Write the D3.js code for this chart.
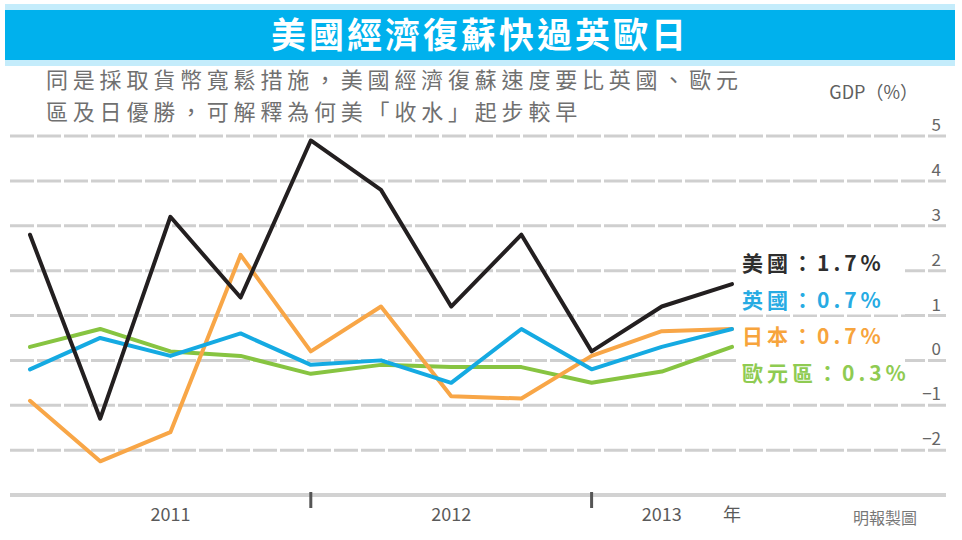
<!DOCTYPE html>
<html>
<head>
<meta charset="utf-8">
<script src="https://cdn.jsdelivr.net/npm/d3@7"></script>
<style>
  body { margin: 0; background: #fff; }
  svg { display: block; font-family: "Noto Sans CJK TC", "Noto Sans", sans-serif; }
</style>
</head>
<body>
<div id="chart"></div>
<script>
// quarterly GDP growth (%), 2010 Q4 .. 2013 Q2
const quarters = ["2010Q4", "2011Q1", "2011Q2", "2011Q3", "2011Q4", "2012Q1", "2012Q2", "2012Q3", "2012Q4", "2013Q1", "2013Q2"];
const usValues = [2.8, -1.3, 3.2, 1.4, 4.9, 3.8, 1.2, 2.8, 0.2, 1.2, 1.7];
const ukValues = [-0.2, 0.5, 0.1, 0.6, -0.1, 0.0, -0.5, 0.7, -0.2, 0.3, 0.7];
const jpValues = [-0.9, -2.25, -1.6, 2.35, 0.2, 1.2, -0.8, -0.85, 0.1, 0.65, 0.7];
const ezValues = [0.3, 0.7, 0.2, 0.1, -0.3, -0.1, -0.15, -0.15, -0.5, -0.25, 0.3];

const seriesNames = ["美國", "英國", "日本", "歐元區"];
const yTicks = [5, 4, 3, 2, 1, 0, -1, -2];
const yearLabels = ["2011", "2012", "2013"];
const yearBreaks = [4, 8];   // quarter index where a new year tick sits

const width = 962, height = 540;

const svg = d3.select("#chart").append("svg")
    .attr("width", width)
    .attr("height", height);

// title bar
svg.append("rect").attr("x", 5).attr("y", 4).attr("width", 950).attr("height", 62).attr("fill", "#c4ecfb");
svg.append("rect").attr("x", 5).attr("y", 10).attr("width", 950).attr("height", 50).attr("fill", "#00b1ed");
svg.append("text")
    .attr("x", 480).attr("y", 48)
    .attr("text-anchor", "middle")
    .attr("fill", "#fff")
    .style("font-size", "35px").style("font-weight", "bold").style("letter-spacing", "3px")
    .text("美國經濟復蘇快過英歐日");

// subtitle
const subtitle = ["同是採取貨幣寬鬆措施，美國經濟復蘇速度要比英國、歐元",
                  "區及日優勝，可解釋為何美「收水」起步較早"];
svg.selectAll(".sub").data(subtitle).enter().append("text")
    .attr("class", "sub")
    .attr("x", 46).attr("y", (d, i) => 88 + i * 32)
    .attr("fill", "#707070")
    .style("font-size", "22px").style("letter-spacing", "4.8px")
    .text(d => d);

svg.append("text")
    .attr("x", 918).attr("y", 99)
    .attr("text-anchor", "end")
    .attr("fill", "#606060")
    .style("font-size", "18px")
    .text("GDP（%）");

// scales
const x = d3.scaleLinear().domain([0, quarters.length - 1]).range([30, 732]);
const y = d3.scaleLinear().domain([-3, 5]).range([495, 136]);

// grid
svg.append("g").selectAll("line").data(yTicks).enter().append("line")
    .attr("x1", 10).attr("x2", 946)
    .attr("y1", d => y(d)).attr("y2", d => y(d))
    .attr("stroke", "#cfcfcf").attr("stroke-width", 3)
    .attr("stroke-dasharray", "24,3");

svg.append("g").selectAll("text").data(yTicks).enter().append("text")
    .attr("x", 941).attr("y", d => y(d) - 5)
    .attr("text-anchor", "end")
    .attr("fill", "#666")
    .style("font-size", "17px")
    .text(d => d < 0 ? "−" + Math.abs(d) : d);

// x axis
svg.append("line")
    .attr("x1", 10).attr("x2", 946)
    .attr("y1", y(-3)).attr("y2", y(-3))
    .attr("stroke", "#d2d2d2").attr("stroke-width", 4);

svg.append("g").selectAll("line").data(yearBreaks).enter().append("line")
    .attr("x1", d => x(d)).attr("x2", d => x(d))
    .attr("y1", y(-3) - 3).attr("y2", y(-3) + 13)
    .attr("stroke", "#555").attr("stroke-width", 3);

const bounds = [0].concat(yearBreaks, [quarters.length - 1]);
svg.append("g").selectAll("text").data(yearLabels).enter().append("text")
    .attr("x", (d, i) => (x(bounds[i]) + x(bounds[i + 1])) / 2)
    .attr("y", 521)
    .attr("text-anchor", "middle")
    .attr("fill", "#5a5a5a")
    .style("font-size", "18px")
    .text(d => d);

svg.append("text")
    .attr("x", x(quarters.length - 1)).attr("y", 521)
    .attr("text-anchor", "middle")
    .attr("fill", "#5a5a5a")
    .style("font-size", "18px")
    .text("年");

svg.append("text")
    .attr("x", 917).attr("y", 524)
    .attr("text-anchor", "end")
    .attr("fill", "#777")
    .style("font-size", "16px")
    .text("明報製圖");

// series
const series = [
    { name: seriesNames[3], values: ezValues, color: "#87c441", text: "#8fcb52" },
    { name: seriesNames[2], values: jpValues, color: "#f8a647", text: "#f7a43c" },
    { name: seriesNames[1], values: ukValues, color: "#15aae2", text: "#27abe3" },
    { name: seriesNames[0], values: usValues, color: "#231f20", text: "#2e2e2e" }
];

const line = d3.line()
    .x((d, i) => x(i))
    .y(d => y(d));

svg.append("g").selectAll("path").data(series).enter().append("path")
    .attr("d", d => line(d.values))
    .attr("fill", "none")
    .attr("stroke", d => d.color)
    .attr("stroke-width", 4)
    .attr("stroke-linejoin", "round")
    .attr("stroke-linecap", "round");

// end labels
const legend = series.slice().reverse();
const lg = svg.append("g").selectAll("g").data(legend).enter().append("g")
    .attr("transform", (d, i) => `translate(742, ${263 + i * 36.5})`);

lg.append("rect")
    .attr("x", -3).attr("y", -15).attr("width", 166).attr("height", 30)
    .attr("fill", "#fff");

lg.append("text")
    .attr("y", 8)
    .attr("fill", d => d.text)
    .style("font-size", "21px").style("font-weight", "bold").style("letter-spacing", "4px")
    .text(d => d.name + "：" + d.values[d.values.length - 1].toFixed(1) + "%");
</script>
</body>
</html>
